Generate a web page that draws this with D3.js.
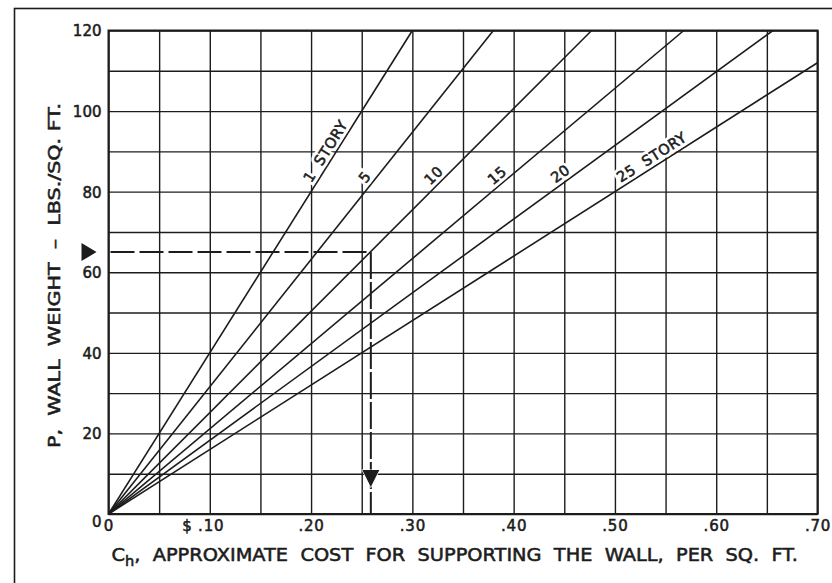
<!DOCTYPE html>
<html>
<head>
<meta charset="utf-8">
<script src="https://cdn.jsdelivr.net/npm/d3@7"></script>
<style>
  html, body { margin: 0; padding: 0; background: #fff; }
  svg { display: block; }
  text { font-family: "DejaVu Sans", "Liberation Sans", sans-serif; fill: #1c1c1c; }
</style>
</head>
<body>
<script>
// Wall weight vs. supporting cost, one line per building height
const stories = [1, 5, 10, 15, 20, 25];
const storyLabels = ["1  STORY", "5", "10", "15", "20", "25  STORY"];
// each line runs from the origin to (endCost, endWeight)
const endCost = [0.30, 0.38, 0.477, 0.568, 0.656, 0.70];
const endWeight = [120, 120, 120, 120, 120, 112];

// worked example: 65 lbs/sq ft wall
const exampleWeight = 65;
const exampleCost = 0.259;

const xTicks = [0, 0.10, 0.20, 0.30, 0.40, 0.50, 0.60, 0.70];
const xTickLabels = ["0", "$ .10", ".20", ".30", ".40", ".50", ".60", ".70"];
const yTicks = [0, 20, 40, 60, 80, 100, 120];
const yTickLabels = ["0", "20", "40", "60", "80", "100", "120"];
const xGrid = d3.range(0, 0.7001, 0.05);
const yGrid = d3.range(0, 120.001, 10);

const W = 832, H = 583;
const plot = { left: 108.5, right: 817.5, top: 30.5, bottom: 514 };
const ink = "#1c1c1c";
const pen = 0.55; // extra stroke that gives lettering its pen weight

const svg = d3.select("body").append("svg")
  .attr("width", W).attr("height", H);

svg.append("rect").attr("width", W).attr("height", H).attr("fill", "#fff");

// outer frame of the figure
svg.append("rect")
  .attr("x", 14.5).attr("y", 8.5)
  .attr("width", 900).attr("height", 700)
  .attr("fill", "none").attr("stroke", ink).attr("stroke-width", 1.6);

const x = d3.scaleLinear().domain([0, 0.70]).range([plot.left, plot.right]);
const y = d3.scaleLinear().domain([0, 120]).range([plot.bottom, plot.top]);
const plotH = plot.bottom - plot.top;
const plotW = plot.right - plot.left;

// grid
const gx = svg.append("g")
  .attr("transform", `translate(0,${plot.bottom})`)
  .call(d3.axisBottom(x).tickValues(xGrid).tickSize(-plotH).tickFormat(""));
gx.select(".domain").remove();
gx.selectAll("line").attr("stroke", ink).attr("stroke-width", 1.4);

const gy = svg.append("g")
  .attr("transform", `translate(${plot.left},0)`)
  .call(d3.axisLeft(y).tickValues(yGrid).tickSize(-plotW).tickFormat(""));
gy.select(".domain").remove();
gy.selectAll("line").attr("stroke", ink).attr("stroke-width", 1.4);

// story lines
const line = d3.line().x(d => x(d[0])).y(d => y(d[1]));
const series = stories.map((s, i) => ({
  story: s,
  label: storyLabels[i],
  slope: endWeight[i] / endCost[i],
  points: [[0, 0], [endCost[i], endWeight[i]]]
}));

svg.append("g").selectAll("path")
  .data(series).join("path")
  .attr("d", d => line(d.points))
  .attr("fill", "none").attr("stroke", ink).attr("stroke-width", 1.6);

// story labels laid along each line, just above it
const labelWeight = [88.8, 82.2, 82.4, 82.3, 82.6, 86.6];
const labelOffset = 9.5;
function placeLabel(d, i) {
  const p0 = [x(0), y(0)];
  const p1 = [x(d.points[1][0]), y(d.points[1][1])];
  const len = Math.hypot(p1[0] - p0[0], p1[1] - p0[1]);
  const ux = (p1[0] - p0[0]) / len, uy = (p1[1] - p0[1]) / len;
  const px = x(labelWeight[i] / d.slope), py = y(labelWeight[i]);
  const cx = px + labelOffset * uy, cy = py - labelOffset * ux;
  const ang = Math.atan2(uy, ux) * 180 / Math.PI;
  return `translate(${cx},${cy}) rotate(${ang})`;
}
const labels = svg.append("g");
// white knock-out behind each label, then the lettering itself
["halo", "ink"].forEach(layer => {
  labels.append("g").selectAll("text")
    .data(series).join("text")
    .attr("transform", placeLabel)
    .attr("text-anchor", "middle")
    .attr("dy", "0.36em")
    .attr("font-size", 14.5)
    .attr("letter-spacing", 0.5)
    .style("white-space", "pre")
    .attr("fill", layer === "halo" ? "#fff" : ink)
    .attr("stroke", layer === "halo" ? "#fff" : ink)
    .attr("stroke-width", layer === "halo" ? 6 : pen)
    .text(d => d.label);
});

// plot border
svg.append("rect")
  .attr("x", plot.left).attr("y", plot.top)
  .attr("width", plotW).attr("height", plotH)
  .attr("fill", "none").attr("stroke", ink).attr("stroke-width", 2);

// worked example: dashed guide from the weight axis to the cost axis
const ex = x(exampleCost), ey = y(exampleWeight);
svg.append("path")
  .attr("d", `M${x(0) + 2},${ey}H${ex}`)
  .attr("fill", "none").attr("stroke", ink).attr("stroke-width", 2)
  .attr("stroke-dasharray", "24,5");
svg.append("path")
  .attr("d", `M${ex},${ey}V${y(0)}`)
  .attr("fill", "none").attr("stroke", ink).attr("stroke-width", 2)
  .attr("stroke-dasharray", "27,3");

// arrowheads
const tri = d3.line();
svg.append("path")
  .attr("d", tri([[x(0) - 27, ey - 9], [x(0) - 12, ey], [x(0) - 27, ey + 9]]) + "Z")
  .attr("fill", ink);
svg.append("path")
  .attr("d", tri([[ex - 8.5, y(0) - 44], [ex + 8.5, y(0) - 44], [ex, y(0) - 27]]) + "Z")
  .attr("fill", ink).attr("stroke", "#fff").attr("stroke-width", 1.2)
  .attr("paint-order", "stroke");

// y axis labels
const ay = svg.append("g")
  .attr("transform", `translate(${plot.left},0)`)
  .call(d3.axisLeft(y).tickValues(yTicks).tickSize(0).tickPadding(7)
    .tickFormat((d, i) => yTickLabels[i]));
ay.select(".domain").remove();
ay.selectAll("text")
  .attr("font-size", 15).attr("font-family", null).attr("fill", ink)
  .attr("stroke", ink).attr("stroke-width", pen)
  .attr("dy", d => d === 0 ? "0.8em" : "0.36em");

// x axis labels
const ax = svg.append("g")
  .attr("transform", `translate(0,${plot.bottom})`)
  .call(d3.axisBottom(x).tickValues(xTicks).tickSize(0).tickPadding(6)
    .tickFormat((d, i) => xTickLabels[i]));
ax.select(".domain").remove();
ax.selectAll("text")
  .attr("font-size", 15).attr("font-family", null).attr("fill", ink)
  .attr("stroke", ink).attr("stroke-width", pen)
  .attr("letter-spacing", 0.8)
  .style("white-space", "pre")
  .attr("dx", (d, i) => xTickLabels[i].startsWith("$") ? -7 : 0);

// axis titles
const xt = svg.append("text")
  .attr("x", plot.left + 3).attr("y", 561)
  .attr("font-size", 18.5)
  .attr("stroke", ink).attr("stroke-width", pen)
  .style("white-space", "pre");
xt.append("tspan").text("C");
xt.append("tspan").attr("font-size", 14).attr("dy", 5).text("h");
xt.append("tspan").attr("dy", -5)
  .text(",  APPROXIMATE  COST  FOR  SUPPORTING  THE  WALL,  PER  SQ.  FT.");
xt.attr("textLength", 798 - (plot.left + 3)).attr("lengthAdjust", "spacingAndGlyphs");

svg.append("text")
  .attr("transform", `translate(59.5,${(103 + 448) / 2}) rotate(-90)`)
  .attr("text-anchor", "middle")
  .attr("font-size", 15.5)
  .attr("stroke", ink).attr("stroke-width", pen)
  .attr("textLength", 345).attr("lengthAdjust", "spacingAndGlyphs")
  .style("white-space", "pre")
  .text("P,  WALL  WEIGHT  –  LBS./SQ. FT.");
</script>
</body>
</html>
